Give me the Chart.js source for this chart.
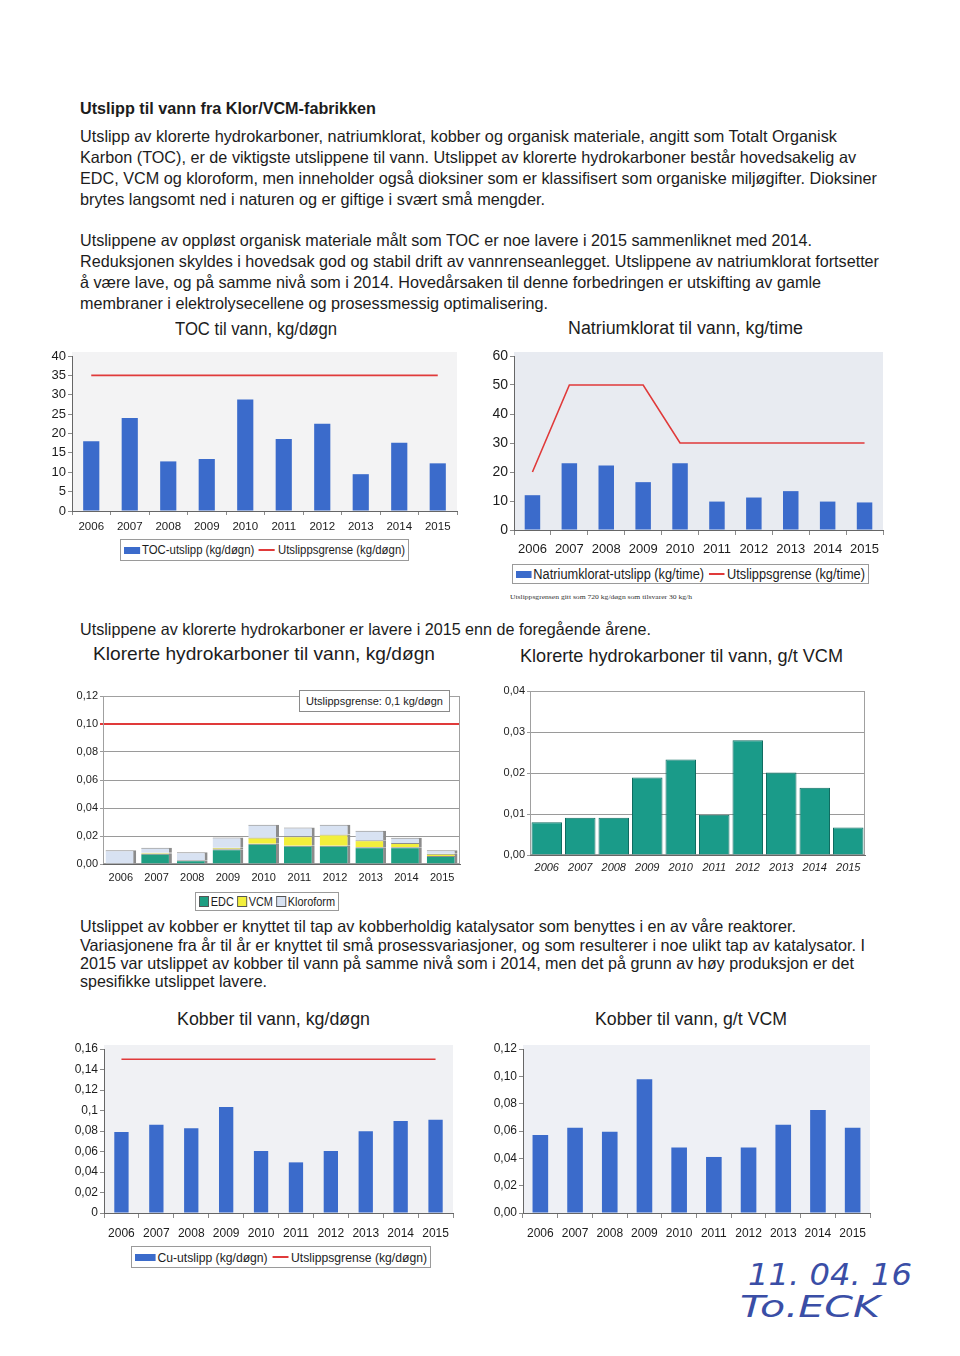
<!DOCTYPE html>
<html lang="no">
<head>
<meta charset="UTF-8">
<title>Utslipp til vann fra Klor/VCM-fabrikken</title>
<style>
    body {
        margin: 0;
        background: #fff;
        color: #1c1c1c;
        font-family: "Liberation Sans Narrow", "Liberation Sans", Arial, sans-serif;
    }
    .page { position: relative; width: 960px; height: 1356px; overflow: hidden; }
    .t {
        position: absolute; left: 80px; white-space: nowrap;
        font-size: 16.5px; line-height: 16px; transform-origin: 0 50%;
    }
    .h { font-weight: bold; }
    .ct {
        position: absolute; white-space: nowrap; font-family: "Liberation Sans", Arial, sans-serif;
        font-size: 18px; line-height: 18px; transform-origin: 0 50%;
    }
    .chart { position: absolute; }
    .legend {
        position: absolute; border: 1px solid #9a9a9a; background: #fff; box-sizing: border-box;
        display: flex; align-items: center; padding-left: 3px; overflow: hidden;
        font-family: "Liberation Sans", Arial, sans-serif; font-size: 12px; color: #1c1c1c;
    }
    .legend .fit { display: inline-flex; align-items: center; white-space: nowrap; transform-origin: 0 50%; }
    .sw { display: inline-block; width: 17px; height: 7px; margin-right: 2px; }
    .ln { display: inline-block; width: 17px; height: 2px; background: #e03a3a; margin: 0 3px 0 5px; }
    .note {
        position: absolute; left: 299px; top: 690px; width: 151px; height: 22px; box-sizing: border-box;
        border: 1px solid #8a8a8a; background: #fff; font-family: "Liberation Sans", Arial, sans-serif;
        font-size: 11px; display: flex; align-items: center; justify-content: center;
    }
    .foot {
        position: absolute; left: 510px; top: 593px; white-space: nowrap;
        font-family: "Liberation Serif", serif; font-size: 7px; line-height: 8px; color: #333; transform-origin: 0 50%;
    }
    .hand {
        position: absolute; white-space: nowrap; font-family: "DejaVu Sans", sans-serif; font-style: italic;
        font-weight: 200; color: #3a4ea6; font-size: 30px; line-height: 30px; transform-origin: 0 50%;
    }
</style>
</head>
<body>
<div class="page">
    <div class="t h" style="top:100px" data-w="296">Utslipp til vann fra Klor/VCM-fabrikken</div>

    <div class="t" style="top:128px" data-w="757">Utslipp av klorerte hydrokarboner, natriumklorat, kobber og organisk materiale, angitt som Totalt Organisk</div>
    <div class="t" style="top:149px" data-w="776">Karbon (TOC), er de viktigste utslippene til vann. Utslippet av klorerte hydrokarboner består hovedsakelig av</div>
    <div class="t" style="top:170px" data-w="797">EDC, VCM og kloroform, men inneholder også dioksiner som er klassifisert som organiske miljøgifter. Dioksiner</div>
    <div class="t" style="top:191px" data-w="465">brytes langsomt ned i naturen og er giftige i svært små mengder.</div>

    <div class="t" style="top:232px" data-w="732">Utslippene av oppløst organisk materiale målt som TOC er noe lavere i 2015 sammenliknet med 2014.</div>
    <div class="t" style="top:253px" data-w="799">Reduksjonen skyldes i hovedsak god og stabil drift av vannrenseanlegget. Utslippene av natriumklorat fortsetter</div>
    <div class="t" style="top:274px" data-w="741">å være lave, og på samme nivå som i 2014. Hovedårsaken til denne forbedringen er utskifting av gamle</div>
    <div class="t" style="top:295px" data-w="468">membraner i elektrolysecellene og prosessmessig optimalisering.</div>

    <div class="ct" style="left:175px;top:320px" data-w="162">TOC til vann, kg/døgn</div>
    <div class="ct" style="left:568px;top:319px" data-w="235">Natriumklorat til vann, kg/time</div>

    <div class="chart"><canvas id="tocChart"></canvas></div>
    <div class="legend" style="left:120px;top:539px;width:289px;height:22px">
        <span class="fit" data-w="281"><i class="sw" style="background:#3b6bcb"></i>TOC-utslipp (kg/døgn)<i class="ln"></i>Utslippsgrense (kg/døgn)</span>
    </div>

    <div class="chart"><canvas id="naChart"></canvas></div>
    <div class="legend" style="left:512px;top:564px;width:357px;height:20px;font-size:14px">
        <span class="fit" data-w="349"><i class="sw" style="background:#3b6bcb"></i>Natriumklorat-utslipp (kg/time)<i class="ln"></i>Utslippsgrense (kg/time)</span>
    </div>
    <div class="foot" data-w="182">Utslippsgrensen gitt som 720 kg/døgn som tilsvarer 30 kg/h</div>

    <div class="t" style="top:621px" data-w="571">Utslippene av klorerte hydrokarboner er lavere i 2015 enn de foregående årene.</div>
    <div class="ct" style="left:93px;top:645px;font-size:19px" data-w="342">Klorerte hydrokarboner til vann, kg/døgn</div>
    <div class="ct" style="left:520px;top:647px;font-size:19px" data-w="323">Klorerte hydrokarboner til vann, g/t VCM</div>

    <div class="chart"><canvas id="hcChart"></canvas></div>
    <div class="note">Utslippsgrense: 0,1 kg/døgn</div>
    <div class="legend" style="left:195px;top:892px;width:144px;height:19px">
        <span class="fit" data-w="136"><i class="sw" style="background:#1e9e82;width:9px;height:9px;border:1px solid #555"></i>EDC&nbsp;<i class="sw" style="background:#f2ef3c;width:9px;height:9px;border:1px solid #555"></i>VCM&nbsp;<i class="sw" style="background:#d8e2f2;width:9px;height:9px;border:1px solid #555"></i>Kloroform</span>
    </div>

    <div class="chart"><canvas id="hcVcmChart"></canvas></div>

    <div class="t" style="top:918px" data-w="716">Utslippet av kobber er knyttet til tap av kobberholdig katalysator som benyttes i en av våre reaktorer.</div>
    <div class="t" style="top:937px" data-w="785">Variasjonene fra år til år er knyttet til små prosessvariasjoner, og som resulterer i noe ulikt tap av katalysator. I</div>
    <div class="t" style="top:955px" data-w="774">2015 var utslippet av kobber til vann på samme nivå som i 2014, men det på grunn av høy produksjon er det</div>
    <div class="t" style="top:973px" data-w="187">spesifikke utslippet lavere.</div>

    <div class="ct" style="left:177px;top:1010px" data-w="193">Kobber til vann, kg/døgn</div>
    <div class="ct" style="left:595px;top:1010px" data-w="192">Kobber til vann, g/t VCM</div>

    <div class="chart"><canvas id="cuChart"></canvas></div>
    <div class="legend" style="left:131px;top:1246px;width:300px;height:22px;font-size:13px">
        <span class="fit" data-w="292"><i class="sw" style="background:#3b6bcb;width:22px"></i>Cu-utslipp (kg/døgn)<i class="ln"></i>Utslippsgrense (kg/døgn)</span>
    </div>

    <div class="chart"><canvas id="cuVcmChart"></canvas></div>

    <div class="hand" style="left:748px;top:1260px" data-w="164">11. 04. 16</div>
    <div class="hand" style="left:740px;top:1292px" data-w="140">To.ECK</div>
</div>

<script src="https://cdn.jsdelivr.net/npm/chart.js"></script>
<script>
    const years = ['2006', '2007', '2008', '2009', '2010', '2011', '2012', '2013', '2014', '2015'];

    // TOC, kg/døgn
    const tocValues = [18, 24, 12.8, 13.4, 28.8, 18.6, 22.5, 9.5, 17.6, 12.3];
    const tocLimit = [35, 35, 35, 35, 35, 35, 35, 35, 35, 35];

    // Natriumklorat, kg/time
    const naValues = [12, 23, 22.2, 16.5, 23, 9.8, 11.2, 13.4, 9.8, 9.5];
    const naLimit = [20, 50, 50, 50, 30, 30, 30, 30, 30, 30];

    // Klorerte hydrokarboner, kg/døgn (stablet)
    const edcValues = [0, 0.0073, 0.0026, 0.0105, 0.0145, 0.013, 0.013, 0.012, 0.012, 0.0057];
    const vcmValues = [0, 0.0007, 0, 0.0011, 0.0045, 0.0068, 0.008, 0.005, 0.003, 0.0016];
    const kloroformValues = [0.0099, 0.0036, 0.0058, 0.0074, 0.009, 0.0062, 0.007, 0.0067, 0.0037, 0.0026];
    const hcLimit = 0.1;

    // Klorerte hydrokarboner, g/t VCM
    const hcPerVcm = [0.008, 0.0091, 0.0091, 0.0189, 0.0233, 0.0098, 0.028, 0.0201, 0.0164, 0.0067];

    // Kobber
    const cuValues = [0.079, 0.086, 0.0826, 0.1034, 0.0605, 0.0494, 0.0605, 0.0797, 0.0898, 0.091];
    const cuLimit = [0.15, 0.15, 0.15, 0.15, 0.15, 0.15, 0.15, 0.15, 0.15, 0.15];
    const cuPerVcm = [0.057, 0.0623, 0.0594, 0.0978, 0.0479, 0.041, 0.048, 0.0645, 0.0753, 0.0623];

    const BLUE = '#3b6bcb';
    const RED = '#e03a3a';
    const AXIS = '#8a8a8a';
    const FONT = '"Liberation Sans", Arial, sans-serif';
    const YW = 50, XH = 32, PT = 12, PR = 10;

    // fit text lines to the widths measured on the scan
    document.querySelectorAll('[data-w]').forEach(el => {
        const w = el.getBoundingClientRect().width;
        el.style.transform = `scaleX(${el.dataset.w / w})`;
    });

    const comma2 = v => v.toFixed(2).replace('.', ',');
    const commaGeneral = v => v === 0 ? '0' : String(+v.toFixed(2)).replace('.', ',');

    const plotBg = {
        id: 'plotBg',
        beforeDraw(chart, args, opts) {
            if (!opts.color) return;
            const a = chart.chartArea, c = chart.ctx;
            c.save();
            c.fillStyle = opts.color;
            c.fillRect(a.left, a.top - 4, a.right - a.left, a.bottom - a.top + 4);
            c.restore();
        },
        beforeDatasetsDraw(chart, args, opts) {
            if (!opts.frame) return;
            const a = chart.chartArea, c = chart.ctx;
            c.save();
            c.strokeStyle = opts.frame;
            c.lineWidth = 1;
            c.strokeRect(a.left + 0.5, a.top + 0.5, a.right - a.left - 1, a.bottom - a.top - 1);
            c.restore();
        }
    };
    Chart.register(plotBg);

    function barSet(data, color, pct, extra) {
        return Object.assign({
            type: 'bar', data, backgroundColor: color,
            barPercentage: pct, categoryPercentage: 1, order: 1
        }, extra || {});
    }

    function limitLine(data) {
        return {
            type: 'line', data, borderColor: RED, borderWidth: 1.6,
            pointRadius: 0, tension: 0, fill: false, order: 0
        };
    }

    function makeChart(id, plot, cfg) {
        const canvas = document.getElementById(id);
        const box = canvas.parentElement;
        const [l, t, r, b] = plot;
        Object.assign(box.style, {
            left: (l - YW) + 'px', top: (t - PT) + 'px',
            width: (r - l + YW + PR) + 'px', height: (b - t + PT + XH) + 'px'
        });
        const y = cfg.y;
        return new Chart(canvas, {
            type: 'bar',
            data: { labels: years, datasets: cfg.datasets },
            options: {
                responsive: true,
                maintainAspectRatio: false,
                animation: false,
                layout: { padding: { top: PT, right: PR, left: 0, bottom: 0 } },
                plugins: {
                    legend: { display: false },
                    tooltip: { enabled: false },
                    plotBg: cfg.bg || {}
                },
                scales: {
                    x: {
                        stacked: !!cfg.stacked,
                        grid: {
                            drawOnChartArea: false,
                            drawTicks: cfg.x.tick > 0,
                            tickLength: cfg.x.tick || 0,
                            color: AXIS
                        },
                        border: { color: '#666' },
                        ticks: {
                            font: Object.assign({ family: FONT }, cfg.x.font),
                            color: '#1c1c1c', padding: cfg.x.pad,
                            maxRotation: 0, autoSkip: false
                        },
                        afterFit: s => { s.height = XH; }
                    },
                    y: {
                        stacked: !!cfg.stacked,
                        min: y.min, max: y.max,
                        grid: {
                            drawOnChartArea: !!y.grid,
                            color: y.gridColor || AXIS,
                            lineWidth: y.gridWidth || 1,
                            tickLength: y.tick
                        },
                        border: { color: '#666' },
                        ticks: {
                            stepSize: y.step, callback: y.fmt,
                            font: Object.assign({ family: FONT }, y.font),
                            color: '#1c1c1c', padding: y.pad
                        },
                        afterFit: s => { s.width = YW; }
                    }
                }
            }
        });
    }

    makeChart('tocChart', [72, 356, 457, 511], {
        datasets: [barSet(tocValues, BLUE, 0.42), limitLine(tocLimit)],
        bg: { color: '#f3f3f4' },
        x: { font: { size: 11.5 }, tick: 4, pad: 5 },
        y: { min: 0, max: 40, step: 5, fmt: v => String(v), font: { size: 13 }, tick: 4, pad: 2 }
    });

    makeChart('naChart', [514, 356, 883, 530], {
        datasets: [barSet(naValues, BLUE, 0.42), limitLine(naLimit)],
        bg: { color: '#e8ebf1' },
        x: { font: { size: 13 }, tick: 5, pad: 7 },
        y: { min: 0, max: 60, step: 10, fmt: v => String(v), font: { size: 14 }, tick: 4, pad: 2 }
    });

    const hcGrid = ctx => (ctx.tick && Math.abs(ctx.tick.value - hcLimit) < 1e-9) ? RED : '#9a9a9a';
    const hcGridW = ctx => (ctx.tick && Math.abs(ctx.tick.value - hcLimit) < 1e-9) ? 2 : 1;
    const side = { borderColor: '#8c8c8c', borderWidth: { top: 1, right: 3, left: 0, bottom: 0 }, borderSkipped: false };
    makeChart('hcChart', [103, 696, 460, 864], {
        stacked: true,
        datasets: [
            barSet(edcValues, '#1e9e82', 0.86, side),
            barSet(vcmValues, '#f2ef3c', 0.86, side),
            barSet(kloroformValues, '#d8e2f2', 0.86, side)
        ],
        bg: { frame: '#a0a0a0' },
        x: { font: { size: 11 }, tick: 0, pad: 7 },
        y: { min: 0, max: 0.12, step: 0.02, fmt: comma2, font: { size: 11 }, tick: 3, pad: 2,
             grid: true, gridColor: hcGrid, gridWidth: hcGridW }
    });

    makeChart('hcVcmChart', [530, 691, 865, 855], {
        datasets: [barSet(hcPerVcm, '#1a9b89', 0.91, { borderColor: '#0f6b60', borderWidth: 1 })],
        bg: { frame: '#a0a0a0' },
        x: { font: { size: 11, style: 'italic' }, tick: 0, pad: 6 },
        y: { min: 0, max: 0.04, step: 0.01, fmt: comma2, font: { size: 11 }, tick: 3, pad: 2,
             grid: true, gridColor: '#9a9a9a' }
    });

    makeChart('cuChart', [104, 1049, 453, 1213], {
        datasets: [barSet(cuValues, BLUE, 0.41), limitLine(cuLimit)],
        bg: { color: '#f0f1f4' },
        x: { font: { size: 12 }, tick: 5, pad: 8 },
        y: { min: 0, max: 0.16, step: 0.02, fmt: commaGeneral, font: { size: 12 }, tick: 4, pad: 2 }
    });

    makeChart('cuVcmChart', [523, 1049, 870, 1213], {
        datasets: [barSet(cuPerVcm, BLUE, 0.45)],
        bg: { color: '#eef0f5' },
        x: { font: { size: 12 }, tick: 5, pad: 8 },
        y: { min: 0, max: 0.12, step: 0.02, fmt: comma2, font: { size: 12 }, tick: 4, pad: 2 }
    });
</script>
</body>
</html>
